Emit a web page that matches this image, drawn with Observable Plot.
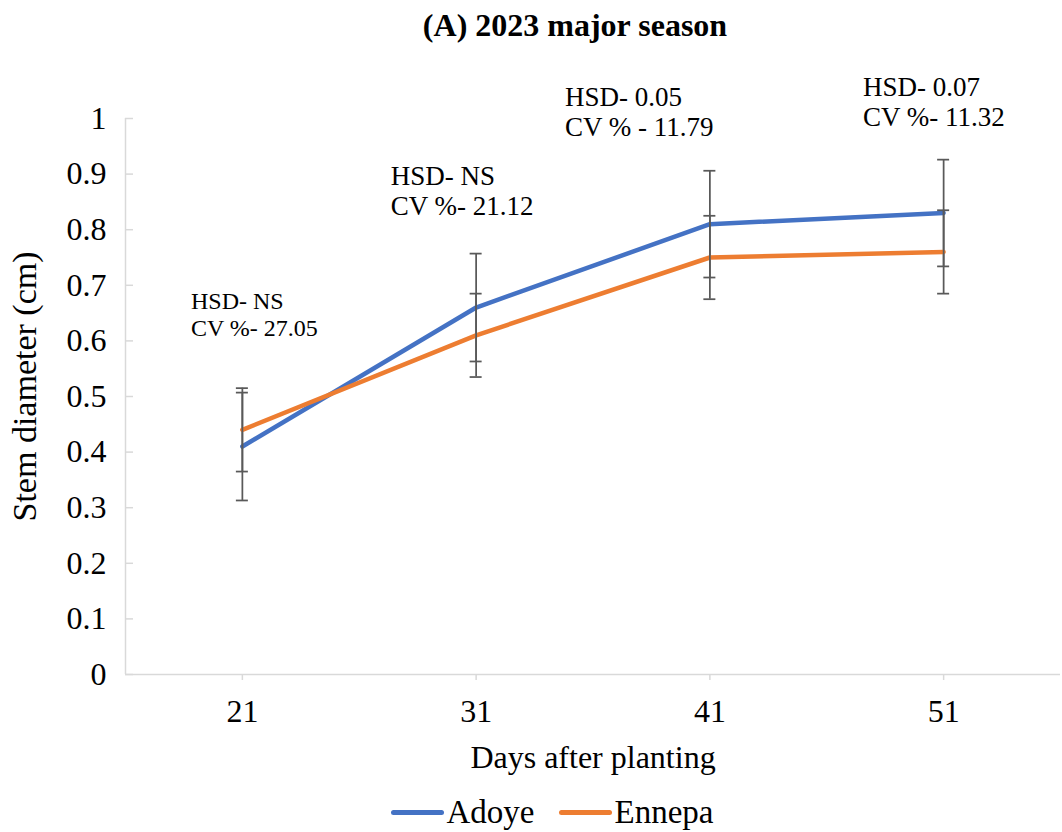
<!DOCTYPE html>
<html>
<head>
<meta charset="utf-8">
<script src="https://cdn.jsdelivr.net/npm/d3@7"></script>
<script src="https://cdn.jsdelivr.net/npm/@observablehq/plot@0.6"></script>
<style>
  html, body { margin: 0; background: #fff; font-family: "Liberation Serif", "Times New Roman", serif; overflow: hidden; }
  #chart svg, #chart svg text, #chart svg g { font-family: "Liberation Serif", "Times New Roman", serif !important; }
  #title { height: 50px; line-height: 50px; text-align: center; padding-left: 88px; font-weight: bold; font-size: 32px; color: #000; }
  #legend { display: flex; justify-content: center; align-items: center; height: 40px; padding-top: 14px; padding-left: 42px; font-size: 33px; line-height: 36px; color: #000; }
  .item { display: flex; align-items: center; margin: 0 12px; }
  .sw { width: 53px; height: 5px; border-radius: 3px; margin-right: 3px; }
</style>
</head>
<body>
<div id="title">(A) 2023 major season</div>
<div id="chart"></div>
<div id="legend"></div>
<script>
const days = [21, 31, 41, 51];
const adoye = [0.41, 0.66, 0.81, 0.83];
const ennepa = [0.44, 0.61, 0.75, 0.76];
const adoyeErr = [0.097, 0.097, 0.096, 0.096];
const ennepaErr = [0.075, 0.075, 0.075, 0.075];
const seriesNames = ["Adoye", "Ennepa"];
const seriesColors = ["#4472C4", "#ED7D31"];
const yTicks = [0, 0.1, 0.2, 0.3, 0.4, 0.5, 0.6, 0.7, 0.8, 0.9, 1];
const hsdLabels = ["HSD- NS", "HSD- NS", "HSD- 0.05", "HSD- 0.07"];
const cvLabels = ["CV %- 27.05", "CV %- 21.12", "CV % - 11.79", "CV %- 11.32"];
// annotation anchor positions in data units (day, stem diameter)
const noteX = [18.8, 27.35, 34.8, 47.55];
const noteY = [0.648, 0.87, 1.013, 1.031];
const noteSize = [24, 27, 27, 27];

const rows = [];
seriesNames.forEach((s, si) => {
  const vals = si === 0 ? adoye : ennepa;
  const errs = si === 0 ? adoyeErr : ennepaErr;
  days.forEach((d, i) => rows.push({series: s, day: d, value: vals[i], err: errs[i]}));
});
const notes = days.map((d, i) => ({x: noteX[i], y: noteY[i], text: hsdLabels[i] + "\n" + cvLabels[i], size: noteSize[i]}));

const font = '"Liberation Serif", "Times New Roman", serif';
const axisGray = "#d9d9d9";
const errGray = "#595959";

const marks = [
  Plot.ruleY([0], {stroke: axisGray, strokeWidth: 1.5}),
  Plot.ruleX([16], {y1: 0, y2: 1, stroke: axisGray, strokeWidth: 1.5}),
  Plot.ruleY(yTicks, {y: d => d, x1: 16, x2: 16, insetRight: -8, stroke: axisGray, strokeWidth: 1.5}),
  Plot.axisX({ticks: days, tickSize: 6, text: null, stroke: axisGray, strokeWidth: 1.5, label: null}),
  Plot.axisX({ticks: days, tickSize: 0, tickPadding: 25, fontSize: 32, fill: "#000", label: null, fontFamily: font}),
  Plot.axisY({ticks: yTicks, tickSize: 0, tickPadding: 19, fontSize: 32, fill: "#000", label: null, tickFormat: d => String(d), fontFamily: font})
];
seriesNames.forEach((s, si) => {
  const data = rows.filter(r => r.series === s);
  marks.push(
    Plot.line(data, {x: "day", y: "value", stroke: seriesColors[si], strokeWidth: 4.5, strokeLinecap: "round", strokeLinejoin: "round"}),
    Plot.ruleX(data, {x: "day", y1: d => d.value - d.err, y2: d => d.value + d.err, stroke: errGray, strokeWidth: 1.75}),
    Plot.ruleY(data, {y: d => d.value + d.err, x1: "day", x2: "day", insetLeft: -6, insetRight: -6, stroke: errGray, strokeWidth: 1.75}),
    Plot.ruleY(data, {y: d => d.value - d.err, x1: "day", x2: "day", insetLeft: -6, insetRight: -6, stroke: errGray, strokeWidth: 1.75})
  );
});
notes.forEach(n => {
  marks.push(Plot.text([n], {x: "x", y: "y", text: "text", textAnchor: "start", lineAnchor: "middle", lineHeight: 1.1, fontSize: n.size, fill: "#000", fontFamily: font}));
});
marks.push(
  Plot.text(["Stem diameter (cm)"], {frameAnchor: "left", dx: -100, dy: -10, rotate: -90, textAnchor: "middle", lineAnchor: "middle", fontSize: 34, fill: "#000", fontFamily: font}),
  Plot.text(["Days after planting"], {frameAnchor: "bottom", dy: 83, textAnchor: "middle", lineAnchor: "middle", fontSize: 32, fill: "#000", fontFamily: font})
);

const chart = Plot.plot({
  width: 1062,
  height: 728,
  marginLeft: 125,
  marginRight: 2,
  marginTop: 68,
  marginBottom: 104,
  style: {background: "#fff", overflow: "visible"},
  x: {type: "linear", domain: [16, 56]},
  y: {domain: [0, 1]},
  marks
});
chart.setAttribute("font-family", font);
document.getElementById("chart").appendChild(chart);

const legend = document.getElementById("legend");
seriesNames.forEach((s, i) => {
  const item = document.createElement("div");
  item.className = "item";
  const sw = document.createElement("div");
  sw.className = "sw";
  sw.style.background = seriesColors[i];
  const lab = document.createElement("span");
  lab.textContent = s;
  item.appendChild(sw);
  item.appendChild(lab);
  legend.appendChild(item);
});
</script>
</body>
</html>
